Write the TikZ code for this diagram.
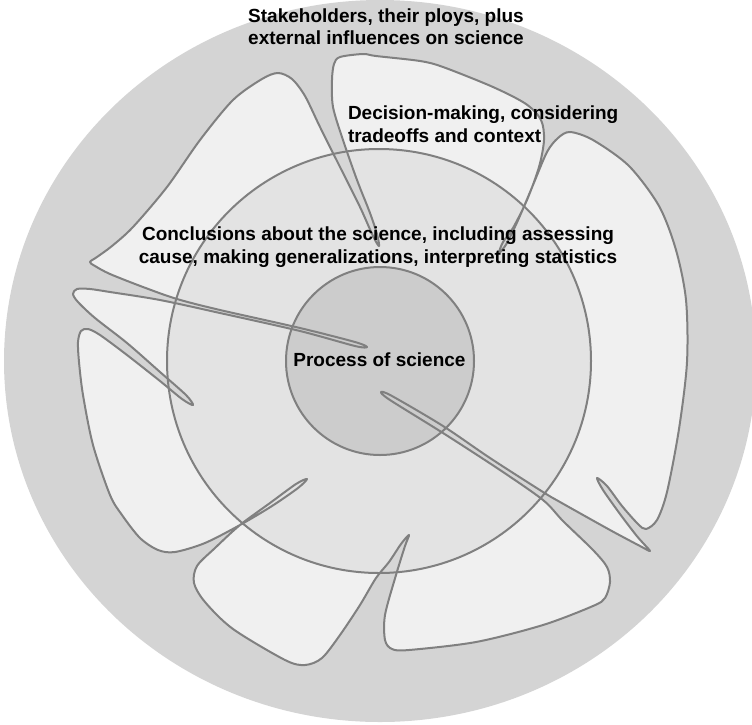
\documentclass[tikz,border=0pt]{standalone}
\usepackage{fontspec}
\setmainfont{Liberation Sans}

\definecolor{ringgray}{gray}{0.83}
\definecolor{petalgray}{gray}{0.94}
\definecolor{midgray}{gray}{0.847}
\definecolor{coregray}{gray}{0.80}
\definecolor{linegray}{gray}{0.50}

% the five lobes with their spikes, one closed curve
\newcommand{\petaloutline}{plot [smooth cycle, tension=0.5] coordinates {
 (340,57) (363,54) (376,56) (420,61) (443,67) (493,87) (526,104) (541,120)
 (544,140) (539,167) (527,200) (513,228) (503,242) (499,253) (507,243) (519,218)
 (533,185) (547,152) (558,138) (570,132) (593,140) (629,166) (659,206) (676,250)
 (686,300) (687,362) (679,429) (667,492) (657,520) (646,529) (638,524) (622,506)
 (607,486) (597,478) (603,490) (620,514) (636,535) (643,543) (650,551) (640,546)
 (610,530) (560,502) (543,492) (490,458) (443,426) (392,396) (381,392) (390,400)
 (443,433) (500,470) (543,500) (563,521) (593,550) (607,567) (610,582) (605,598)
 (593,606) (543,625) (476,642) (409,650) (392,649) (385,640) (385,615) (396,575)
 (405,546) (409,535) (401,544) (389,562) (376,578) (360,605) (340,635) (322,658)
 (305,665) (285,660) (233,629) (205,602) (194,583) (197,566) (215,548) (240,525)
 (270,503) (296,484) (307,479) (298,488) (272,506) (240,525) (205,543) (175,552)
 (158,550) (140,538) (122,515) (110,495) (93,445) (83,395) (79,362) (78,342)
 (81,331) (88,329) (100,335) (127,355) (160,381) (182,399) (193,405) (186,395)
 (160,372) (127,343) (95,318) (78,302) (73,294) (77,289) (90,289) (110,292)
 (160,300) (220,313) (300,331) (355,346) (367,347) (355,342) (300,328) (220,310)
 (177,299) (143,287) (110,274) (95,266) (90,262) (97,257) (112,246) (133,227)
 (167,187) (200,140) (233,100) (262,79) (278,73) (292,79) (305,96) (320,127)
 (340,167) (360,207) (373,236) (379,246) (377,234) (370,213) (357,180) (343,140)
 (333,107) (332,80) (334,64)}}

\begin{document}
\begin{tikzpicture}[x=1pt, y=-1pt]
\tikzset{ inner sep=0pt, outer sep=0pt,
  rim/.style={draw=linegray, line width=2pt, line join=round},
  every node/.style={font=\bfseries\fontsize{19}{22.5}\selectfont}, }

%\draw [lightgray, dashed](0,0) grid [step=50] (752,724);
\useasboundingbox (0,0) rectangle (752,724);

\fill [ringgray] (380,361) ellipse [x radius=376pt, y radius=361pt];
\fill [petalgray] \petaloutline;

\path [rim, fill=midgray, fill opacity=0.5] (379,361) circle [radius=212pt];
\path [rim, fill=coregray] (380,361) circle [radius=94pt];

\path [rim] \petaloutline;

\node [anchor=base, align=center] (S) at (386,44.5) {Stakeholders, their ploys, plus\\external influences on science};
\node [anchor=base west, align=left] (D) at (348,142) {Decision-making, considering\\tradeoffs and context};
\node [anchor=base, align=center] (C) at (378,263) {Conclusions about the science, including assessing\\cause, making generalizations, interpreting statistics};
\node [anchor=base] (P) at (379.5,366) {Process of science};
\end{tikzpicture}
\end{document}
